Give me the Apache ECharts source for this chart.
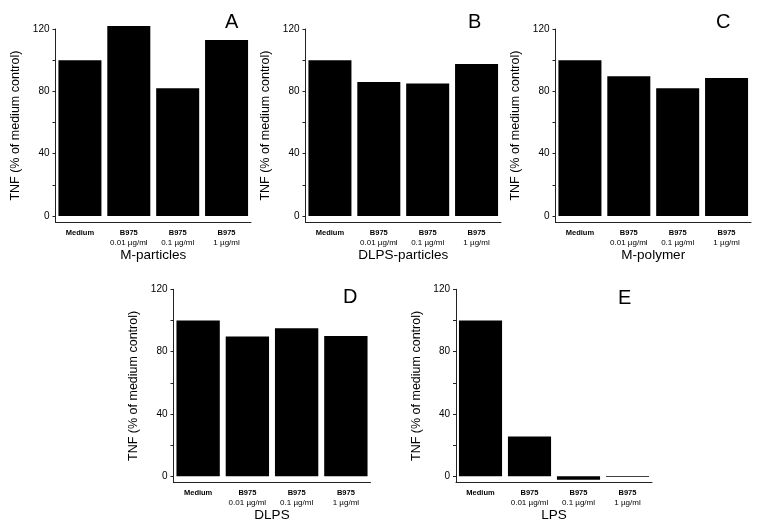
<!DOCTYPE html>
<html>
<head>
<meta charset="utf-8">
<script src="https://cdn.jsdelivr.net/npm/echarts@6/dist/echarts.min.js"></script>
<style>
html,body{margin:0;padding:0;background:#fff;}
#chart{width:763px;height:530px;}
</style>
</head>
<body>
<div id="chart"></div>
<script>
// ---- data ----
const categories = ['Medium', 'B975\n0.01 µg/ml', 'B975\n0.1 µg/ml', 'B975\n1 µg/ml'];
const panelA = [100, 122, 82, 113];
const panelB = [100, 86, 85, 97.5];
const panelC = [100, 89.7, 82, 88.6];
const panelD = [100, 89.7, 95, 90];
const panelE = [100, 25.5, -2.2, -0.4];
const panelNames = ['M-particles', 'DLPS-particles', 'M-polymer', 'DLPS', 'LPS'];
const panelLetters = ['A', 'B', 'C', 'D', 'E'];
const yLabelValues = [0, 40, 80, 120];
const yTickValues = [0, 20, 40, 60, 80, 100, 120];
const yTitle = 'TNF (% of medium control)';

// ---- layout ----
const grids = [
  {left: 55.5, top: 29, width: 195.5, height: 193.2},
  {left: 305.5, top: 29, width: 195.5, height: 193.2},
  {left: 555.5, top: 29, width: 195.5, height: 193.2},
  {left: 173.5, top: 289.3, width: 197, height: 193.2},
  {left: 456, top: 289.3, width: 196, height: 193.2}
];
const letterPos = [[225, 12], [468, 12], [716, 12], [343, 287], [618, 288]];
const seriesData = [panelA, panelB, panelC, panelD, panelE];
const FONT = '"Liberation Sans", Arial, sans-serif';
const AX = '#222';

const option = {
  animation: false,
  backgroundColor: '#fff',
  textStyle: {fontFamily: FONT},
  title: panelLetters.map((l, i) => ({
    text: l, left: letterPos[i][0], top: letterPos[i][1], padding: 0,
    textStyle: {fontSize: 20, fontWeight: 'normal', color: '#000', fontFamily: FONT}
  })),
  grid: grids,
  xAxis: grids.map((g, i) => ({
    type: 'category', gridIndex: i, data: categories,
    name: panelNames[i], nameLocation: 'middle', nameGap: 26,
    nameTextStyle: {fontSize: 13.5, color: '#000', fontFamily: FONT},
    axisLine: {show: true, onZero: false, lineStyle: {color: AX, width: 1}},
    axisTick: {show: false},
    axisLabel: {
      interval: 0, margin: 6, color: '#000', fontSize: 8, lineHeight: 9.5,
      formatter: function (v) {
        const parts = v.split('\n');
        if (parts.length === 1) return '{b|' + parts[0] + '}';
        return '{b|' + parts[0] + '}\n{n|' + parts[1] + '}';
      },
      rich: {
        b: {fontWeight: 'bold', fontSize: 7.5, color: '#000', fontFamily: FONT, lineHeight: 9.5},
        n: {fontWeight: 'normal', fontSize: 8, color: '#000', fontFamily: FONT, lineHeight: 9.5}
      }
    },
    splitLine: {show: false}
  })),
  yAxis: grids.map((g, i) => ({
    type: 'value', gridIndex: i, min: -4, max: 120,
    name: yTitle, nameLocation: 'middle', nameGap: 33, nameRotate: 90,
    nameTextStyle: {fontSize: 12.5, color: '#000', fontFamily: FONT},
    axisLine: {show: true, lineStyle: {color: AX, width: 1}},
    axisTick: {show: true, length: 3, customValues: yTickValues, lineStyle: {color: AX}},
    axisLabel: {customValues: yLabelValues, fontSize: 10, color: '#000', margin: 6},
    splitLine: {show: false}
  })),
  series: seriesData.map((d, i) => ({
    type: 'bar', xAxisIndex: i, yAxisIndex: i, data: d,
    barCategoryGap: '12%', clip: false,
    itemStyle: {color: '#000'}
  }))
};

const chart = echarts.init(document.getElementById('chart'), null, {renderer: 'canvas'});
chart.setOption(option);
</script>
</body>
</html>
